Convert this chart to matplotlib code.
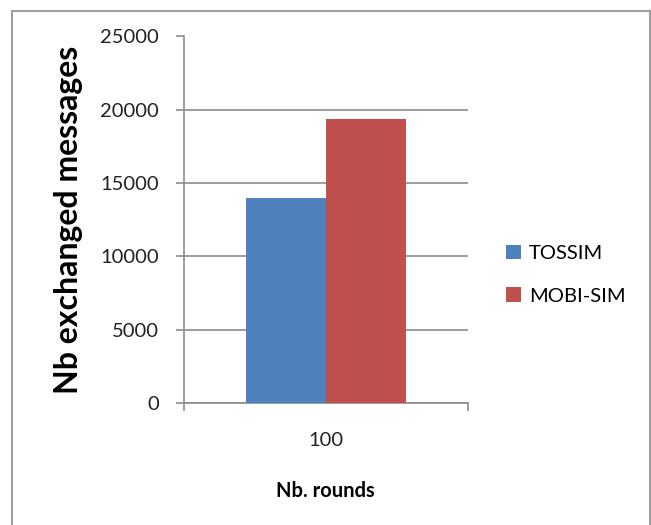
import matplotlib
matplotlib.use("Agg")
import matplotlib.pyplot as plt
from matplotlib.patches import Rectangle
import numpy as np

categories = ["100"]
series_names = ["TOSSIM", "MOBI-SIM"]
tossim = [13950]
mobisim = [19350]
yticks = [0, 5000, 10000, 15000, 20000, 25000]
colors = ["#4F81BD", "#C0504D"]

plt.rcParams['font.family'] = ['Lato', 'DejaVu Sans']

fig = plt.figure(figsize=(6.51, 5.25), dpi=100)
ax = fig.add_axes([184/651, 1-403/525, (467.7-184)/651, (403-36.5)/525])

x = np.arange(len(categories))
w = 0.282
ax.bar(x - w/2, tossim, width=w, color=colors[0], label=series_names[0], zorder=3)
ax.bar(x + w/2, mobisim, width=w, color=colors[1], label=series_names[1], zorder=3)

ax.set_xlim(-0.5, 0.5)
ax.set_ylim(0, 25000)
ax.set_yticks(yticks)
ax.set_yticklabels([str(v) for v in yticks], fontsize=14.5, color="#222222")
ax.yaxis.grid(True, color="#8c8c8c", linewidth=1.2, zorder=0)
ax.set_axisbelow(True)
for s in ["top", "right"]:
    ax.spines[s].set_visible(False)
for s in ["left", "bottom"]:
    ax.spines[s].set_color("#8c8c8c")
    ax.spines[s].set_linewidth(1.2)
ax.tick_params(axis="y", length=6, width=1.2, color="#8c8c8c", pad=12)
ax.set_xticks(x)
ax.set_xticklabels(categories, fontsize=14.5, color="#222222")
ax.tick_params(axis="x", length=0, pad=21)
# category boundary ticks
ax.set_xticks([-0.5, 0.5], minor=True)
ax.tick_params(axis="x", which="minor", length=6, width=1.2, color="#8c8c8c")

ax.set_xlabel("Nb. rounds", fontsize=14.5, fontweight="bold", labelpad=23)
ax.set_ylabel("Nb exchanged messages", fontsize=23, fontweight="bold")
ax.yaxis.set_label_coords(-0.356, 0.5)

leg = ax.legend(loc="center left", bbox_to_anchor=(1.07, 0.35), frameon=False,
                fontsize=14.5, handlelength=0.75, handleheight=0.75,
                labelspacing=1.25, handletextpad=0.4)

fig.patches.append(Rectangle((12/651, -0.05), (650-12)/651, 1.05-11/525,
                             transform=fig.transFigure, fill=False,
                             edgecolor="#a0a0a0", linewidth=1.5))

fig.savefig("out.png", dpi=100)
